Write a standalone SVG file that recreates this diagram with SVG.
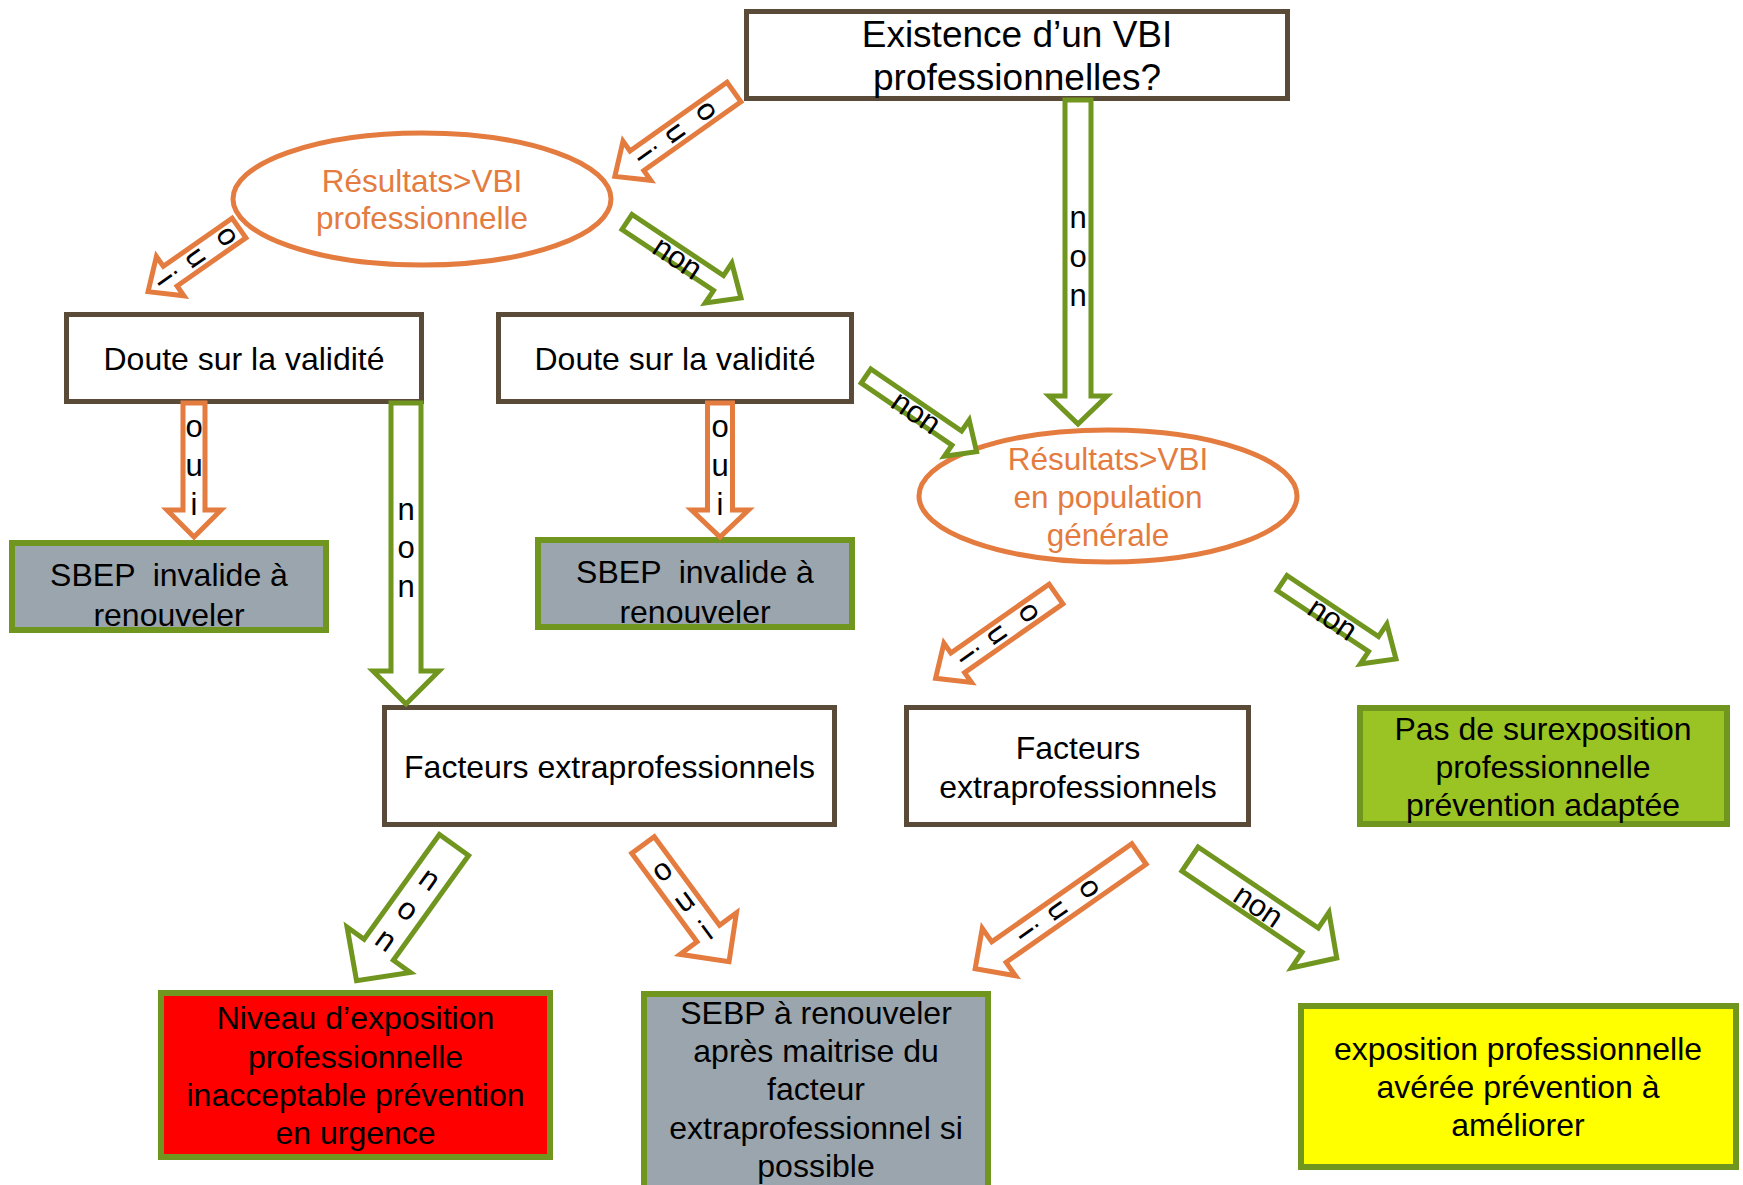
<svg xmlns="http://www.w3.org/2000/svg" width="1743" height="1185" viewBox="0 0 1743 1185">
<style>
text{font-family:"Liberation Sans",Arial,sans-serif;fill:#000;text-anchor:middle}
.box{fill:#fff;stroke:#5A4A38;stroke-width:5}
.gb{stroke:#71961F;stroke-width:6}
.grey{fill:#9AA5AD}
.lime{fill:#99C424}
.red{fill:#FF0000}
.yel{fill:#FFFF00}
.ell{fill:#fff;stroke:#E47B3F;stroke-width:5}
.et{fill:#E47B3F;font-size:31.5px}
.t32{font-size:32px}
.t36{font-size:37px}
.ao{fill:#fff;stroke:#E47B3F;stroke-width:5;stroke-miterlimit:10}
.ag{fill:#fff;stroke:#71961F;stroke-width:5;stroke-miterlimit:10}
.al{font-size:31px}
</style>
<g id="n-top"><rect class="box" x="746.5" y="11.5" width="541" height="87"/>
<text class="t36" x="1017" y="47">Existence d’un VBI</text><text class="t36" x="1017" y="90">professionnelles?</text></g>
<g id="n-ell1"><ellipse class="ell" cx="422" cy="199" rx="189" ry="66"/>
<text class="et" x="422" y="192">Résultats&gt;VBI</text><text class="et" x="422" y="229">professionnelle</text></g>
<g id="n-doute1"><rect class="box" x="66.5" y="314.5" width="355" height="87"/>
<text class="t32" x="244" y="370">Doute sur la validité</text></g>
<g id="n-doute2"><rect class="box" x="498.5" y="314.5" width="353" height="87"/>
<text class="t32" x="675" y="370">Doute sur la validité</text></g>
<g id="n-sbep1"><rect class="grey gb" x="12" y="543" width="314" height="87"/>
<text class="t32" x="169" y="586" xml:space="preserve">SBEP  invalide à</text><text class="t32" x="169" y="626">renouveler</text></g>
<g id="n-sbep2"><rect class="grey gb" x="538" y="540" width="314" height="87"/>
<text class="t32" x="695" y="583" xml:space="preserve">SBEP  invalide à</text><text class="t32" x="695" y="623">renouveler</text></g>
<g id="n-ell2"><ellipse class="ell" cx="1108" cy="496" rx="189" ry="66"/>
<text class="et" x="1108" y="470">Résultats&gt;VBI</text><text class="et" x="1108" y="508">en population</text><text class="et" x="1108" y="546">générale</text></g>
<g id="n-fact1"><rect class="box" x="384.5" y="707.5" width="450" height="117"/>
<text class="t32" x="609.5" y="778">Facteurs extraprofessionnels</text></g>
<g id="n-fact2"><rect class="box" x="906.5" y="707.5" width="342" height="117"/>
<text class="t32" x="1078" y="759">Facteurs</text><text class="t32" x="1078" y="798">extraprofessionnels</text></g>
<g id="n-pas"><rect class="lime gb" x="1360" y="708" width="367" height="116"/>
<text class="t32" x="1543" y="740">Pas de surexposition</text><text class="t32" x="1543" y="778">professionnelle</text><text class="t32" x="1543" y="816">prévention adaptée</text></g>
<g id="n-niveau"><rect class="red gb" x="161" y="993" width="389" height="164"/>
<text class="t32" x="355.5" y="1029">Niveau d’exposition</text><text class="t32" x="355.5" y="1068">professionnelle</text><text class="t32" x="355.5" y="1106">inacceptable prévention</text><text class="t32" x="355.5" y="1144">en urgence</text></g>
<g id="n-sebp"><rect class="grey gb" x="644" y="994" width="344" height="220"/>
<text class="t32" x="816" y="1024">SEBP à renouveler</text><text class="t32" x="816" y="1062">après maitrise du</text><text class="t32" x="816" y="1100">facteur</text><text class="t32" x="816" y="1139">extraprofessionnel si</text><text class="t32" x="816" y="1177">possible</text></g>
<g id="n-expo"><rect class="yel gb" x="1301" y="1006" width="435" height="161"/>
<text class="t32" x="1518" y="1060">exposition professionnelle</text><text class="t32" x="1518" y="1098">avérée prévention à</text><text class="t32" x="1518" y="1136">améliorer</text></g>
<g id="connectors">
<g transform="translate(1078,100) rotate(90)"><path class="ag" d="M0,-13 H296 V-29 L324,0 L296,29 V13 H0 Z"/>
<text class="al" transform="translate(128,0) rotate(-90)">n</text><text class="al" transform="translate(167,0) rotate(-90)">o</text><text class="al" transform="translate(206,0) rotate(-90)">n</text></g>
<g transform="translate(734,92) rotate(144.7)"><path class="ao" d="M0,-12 H119 V-24 L146,0 L119,24 V12 H0 Z"/>
<text class="al" transform="translate(42.5,0) rotate(-90)">o</text><text class="al" transform="translate(80,0) rotate(-90)">u</text><text class="al" transform="translate(117.5,0) rotate(-90)">i</text></g>
<g transform="translate(239,228) rotate(145)"><path class="ao" d="M0,-12 H84 V-24 L111,0 L84,24 V12 H0 Z"/>
<text class="al" transform="translate(23.5,0) rotate(-90)">o</text><text class="al" transform="translate(61,0) rotate(-90)">u</text><text class="al" transform="translate(98.5,0) rotate(-90)">i</text></g>
<g transform="translate(627,222) rotate(33.7)"><path class="ag" d="M0,-9 H110 V-24 L137,0 L110,24 V9 H0 Z"/>
<text class="al" x="62" y="12">non</text></g>
<g transform="translate(194,403) rotate(90)"><path class="ao" d="M0,-11 H107 V-27 L134,0 L107,27 V11 H0 Z"/>
<text class="al" transform="translate(33.5,0) rotate(-90)">o</text><text class="al" transform="translate(72.5,0) rotate(-90)">u</text><text class="al" transform="translate(111.5,0) rotate(-90)">i</text></g>
<g transform="translate(406,403) rotate(90)"><path class="ag" d="M0,-15 H268 V-33 L301,0 L268,33 V15 H0 Z"/>
<text class="al" transform="translate(117,0) rotate(-90)">n</text><text class="al" transform="translate(155,0) rotate(-90)">o</text><text class="al" transform="translate(194,0) rotate(-90)">n</text></g>
<g transform="translate(720,403) rotate(90)"><path class="ao" d="M0,-12.5 H107 V-28.5 L134,0 L107,28.5 V12.5 H0 Z"/>
<text class="al" transform="translate(33.5,0) rotate(-90)">o</text><text class="al" transform="translate(72.5,0) rotate(-90)">u</text><text class="al" transform="translate(111.5,0) rotate(-90)">i</text></g>
<g transform="translate(866,376) rotate(34.4)"><path class="ag" d="M0,-8.5 H110 V-22 L134,0 L110,22 V8.5 H0 Z"/>
<text class="al" x="62" y="12">non</text></g>
<g transform="translate(1056,594) rotate(145)"><path class="ao" d="M0,-12 H120 V-24 L147,0 L120,24 V12 H0 Z"/>
<text class="al" transform="translate(41.5,0) rotate(-90)">o</text><text class="al" transform="translate(80,0) rotate(-90)">u</text><text class="al" transform="translate(117,0) rotate(-90)">i</text></g>
<g transform="translate(1282,583) rotate(33.7)"><path class="ag" d="M0,-9 H110 V-24 L137,0 L110,24 V9 H0 Z"/>
<text class="al" x="62" y="12">non</text></g>
<g transform="translate(454,845) rotate(125.7)"><path class="ag" d="M0,-18 H129 V-39 L167,0 L129,39 V18 H0 Z"/>
<text class="al" transform="translate(52,0) rotate(-90)">n</text><text class="al" transform="translate(89.5,0) rotate(-90)">o</text><text class="al" transform="translate(127,0) rotate(-90)">n</text></g>
<g transform="translate(643,845) rotate(53.6)"><path class="ao" d="M0,-14 H110 V-35 L145,0 L110,35 V14 H0 Z"/>
<text class="al" transform="translate(41.5,0) rotate(-90)">o</text><text class="al" transform="translate(79,0) rotate(-90)">u</text><text class="al" transform="translate(116.5,0) rotate(-90)">i</text></g>
<g transform="translate(1139,854) rotate(145)"><path class="ao" d="M0,-12.5 H171 V-29 L200,0 L171,29 V12.5 H0 Z"/>
<text class="al" transform="translate(69,0) rotate(-90)">o</text><text class="al" transform="translate(107.5,0) rotate(-90)">u</text><text class="al" transform="translate(146,0) rotate(-90)">i</text></g>
<g transform="translate(1190,859) rotate(34)"><path class="ag" d="M0,-14.5 H145 V-33.5 L177,0 L145,33.5 V14.5 H0 Z"/>
<text class="al" x="83" y="11">non</text></g>
</g>
</svg>
